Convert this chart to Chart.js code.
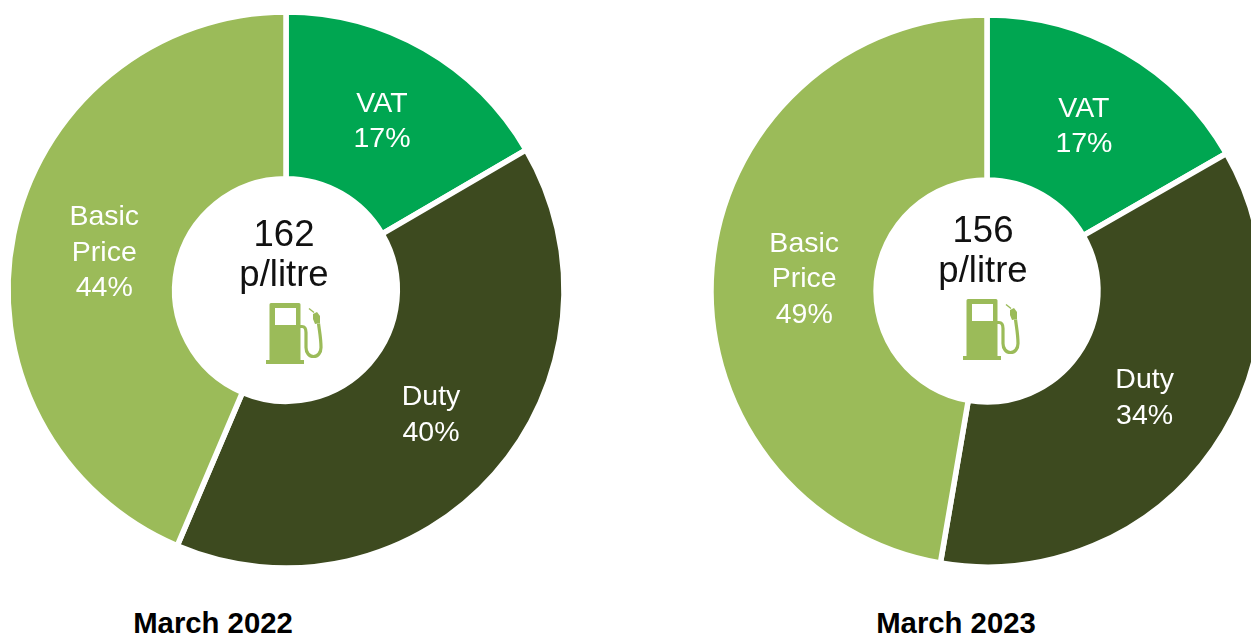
<!DOCTYPE html>
<html><head><meta charset="utf-8">
<script src="https://cdn.jsdelivr.net/npm/chart.js@4"></script>
<style>
html,body{margin:0;padding:0;background:#fff;width:1251px;height:635px;overflow:hidden}
body{position:relative;font-family:"Liberation Sans",Arial,sans-serif}
canvas{position:absolute}
.t{position:absolute;text-align:center;white-space:nowrap;transform:translateX(-50%)}
.c{font-size:36.5px;color:#111;line-height:40px}
.h{font-size:29.3px;font-weight:bold;color:#000;line-height:32px}
svg{position:absolute}
</style></head><body>
<canvas id="c1" width="600" height="600" style="left:-14px;top:-10px"></canvas>
<canvas id="c2" width="600" height="600" style="left:687px;top:-9px"></canvas>
<div class="t c" id="tot1" style="left:284px;top:214px"></div>
<div class="t c" id="tot2" style="left:983px;top:210px"></div>
<div class="t h" id="ttl1" style="left:213px;top:607px"></div>
<div class="t h" id="ttl2" style="left:956px;top:607px"></div>
<svg style="left:264px;top:302px" width="62" height="64" viewBox="0 0 62 64"><use href="#p"/></svg>
<svg style="left:961px;top:298px" width="62" height="64" viewBox="0 0 62 64"><use href="#p"/></svg>
<svg width="0" height="0"><defs><g id="p">
<path fill="#9BBB59" fill-rule="evenodd" d="M7 1h28a1.500 1.500 0 0 1 1.500 1.500V58h3.500v4H2v-4h3.500V2.500A1.500 1.500 0 0 1 7 1zM11 6v17h21V6z"/>
<path fill="none" stroke="#9BBB59" stroke-width="3.200" d="M36 24.500h2c3 0 4 2.500 4 6v15c0 5 3 9 7.500 9s7.500-4 7.500-9c0-9-1.500-16-2.500-24"/>
<path fill="#9BBB59" d="M49 12l4-2 3 4v7l-5 1-2-5z"/>
<path fill="none" stroke="#9BBB59" stroke-width="1.400" d="M45 6.500l5 4"/>
</g></defs></svg>
<script>
const categories=["VAT","Duty","Basic Price"];
const shares2022=[16.6,39.8,43.6];
const shares2023=[16.7,36.0,47.3];
const labels2022=["17%","40%","44%"];
const labels2023=["17%","34%","49%"];
const colours=["#00A651","#3D4A1F","#9BBB59"];
const totals=["162","156"];
const unit="p/litre";
const titles=["March 2022","March 2023"];

const inLabels={id:'inLabels',afterDatasetsDraw(chart,args,opts){
  const {ctx}=chart;const meta=chart.getDatasetMeta(0);
  ctx.save();ctx.fillStyle='#fff';ctx.font='28.5px "Liberation Sans", Arial, sans-serif';
  ctx.textAlign='center';ctx.textBaseline='middle';
  meta.data.forEach((a,i)=>{
    const p=a.tooltipPosition();
    const x=p.x+opts.nudge[i][0],y=p.y+opts.nudge[i][1];
    const lines=categories[i].split(' ').concat(opts.pct[i]);
    const lh=35.5,top=y-(lines.length-1)*lh/2;
    lines.forEach((l,j)=>ctx.fillText(l,x,top+j*lh));
  });
  ctx.restore();
}};
function make(id,values,pct,R,inner,nudge){
  return new Chart(document.getElementById(id),{
    type:'doughnut',
    data:{labels:categories,datasets:[{data:values,backgroundColor:colours,borderColor:'#fff',borderWidth:5.5,borderAlign:'center',hoverOffset:0}]},
    options:{responsive:false,animation:false,radius:R,cutout:inner,rotation:0,circumference:360,layout:{padding:0},
      plugins:{legend:{display:false},tooltip:{enabled:false},inLabels:{pct,nudge}}},
    plugins:[inLabels]
  });
}
make('c1',shares2022,labels2022,278,119,[[-1,0.5],[-1,-3.5],[9,2]]);
make('c2',shares2023,labels2023,276,119.5,[[0,3],[-1,-3.5],[10,5]]);
document.getElementById('tot1').innerHTML=totals[0]+'<br>'+unit;
document.getElementById('tot2').innerHTML=totals[1]+'<br>'+unit;
document.getElementById('ttl1').textContent=titles[0];
document.getElementById('ttl2').textContent=titles[1];
</script>
</body></html>
